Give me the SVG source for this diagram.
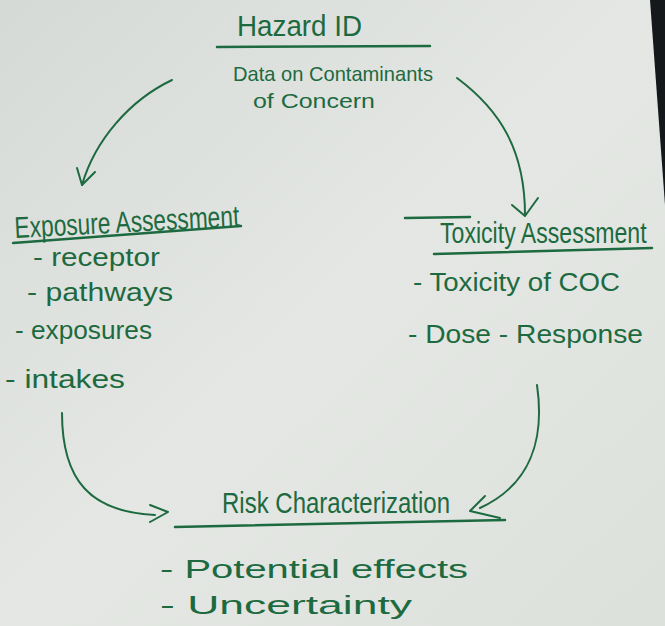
<svg xmlns="http://www.w3.org/2000/svg" width="665" height="626" viewBox="0 0 665 626">
<defs>
<linearGradient id="paper" x1="0" y1="0" x2="1" y2="1">
<stop offset="0" stop-color="#d6dad6"/>
<stop offset="0.5" stop-color="#e4e7e3"/>
<stop offset="1" stop-color="#dde1dc"/>
</linearGradient>
<style>
.t{font-family:"Liberation Sans","DejaVu Sans",sans-serif;fill:#1d6a40;}
.h{font-size:30px;}
.b{font-size:25px;}
.s{font-size:21px;}
.ln{stroke:#1d6a40;stroke-width:2;fill:none;stroke-linecap:round;stroke-linejoin:round;}
.ul{stroke:#1d6a40;stroke-width:2.5;fill:none;stroke-linecap:round;}
</style>
</defs>
<rect width="665" height="626" fill="url(#paper)"/>
<polygon points="650,0 665,0 665,205" fill="#15181a"/>

<g id="connectors">
<path class="ln" d="M172,80 C130,100 95,140 82,185"/>
<path class="ln" d="M77,168 L82,185 L95,172"/>
<path class="ln" d="M457,78 C500,110 525,150 525,215"/>
<path class="ln" d="M512,205 L525,216 L538,198"/>
<path class="ln" d="M62,413 C62,480 90,512 155,515"/>
<path class="ln" d="M150,505 L168,512 L150,522"/>
<path class="ln" d="M537,385 C545,440 530,485 480,508"/>
<path class="ln" d="M485,496 L470,511 L500,518"/>
</g>

<g id="hazard-id">
<text class="t h" x="237" y="36" textLength="125" lengthAdjust="spacingAndGlyphs">Hazard ID</text>
<line class="ul" x1="217" y1="47" x2="430" y2="46"/>
<text class="t s" x="233" y="81" textLength="200" lengthAdjust="spacingAndGlyphs">Data on Contaminants</text>
<text class="t s" x="253" y="108" textLength="122" lengthAdjust="spacingAndGlyphs">of Concern</text>
</g>

<g id="exposure-assessment">
<text class="t h" x="15" y="238" textLength="225" lengthAdjust="spacingAndGlyphs" transform="rotate(-3 15 238)">Exposure Assessment</text>
<line class="ul" x1="13" y1="243" x2="241" y2="226"/>
<text class="t b" x="33" y="266" textLength="127" lengthAdjust="spacingAndGlyphs">- receptor</text>
<text class="t b" x="27" y="301" textLength="146" lengthAdjust="spacingAndGlyphs">- pathways</text>
<text class="t b" x="15" y="339" textLength="137" lengthAdjust="spacingAndGlyphs">- exposures</text>
<text class="t b" x="5" y="388" textLength="120" lengthAdjust="spacingAndGlyphs">- intakes</text>
</g>

<g id="toxicity-assessment">
<text class="t h" x="0" y="0" transform="translate(440 243) scale(0.77 1)">Toxicity Assessment</text>
<line class="ul" x1="405" y1="218" x2="470" y2="217"/>
<line class="ul" x1="434" y1="254" x2="652" y2="248"/>
<text class="t b" x="413" y="291" textLength="207" lengthAdjust="spacingAndGlyphs">- Toxicity of COC</text>
<text class="t b" x="408" y="343" textLength="235" lengthAdjust="spacingAndGlyphs">- Dose - Response</text>
</g>

<g id="risk-characterization">
<text class="t h" x="222" y="513" textLength="228" lengthAdjust="spacingAndGlyphs">Risk Characterization</text>
<line class="ul" x1="175" y1="527" x2="505" y2="520"/>
<text class="t b" x="160" y="578" textLength="308" lengthAdjust="spacingAndGlyphs">- Potential effects</text>
<text class="t b" x="160" y="614" textLength="252" lengthAdjust="spacingAndGlyphs">- Uncertainty</text>
</g>
</svg>
